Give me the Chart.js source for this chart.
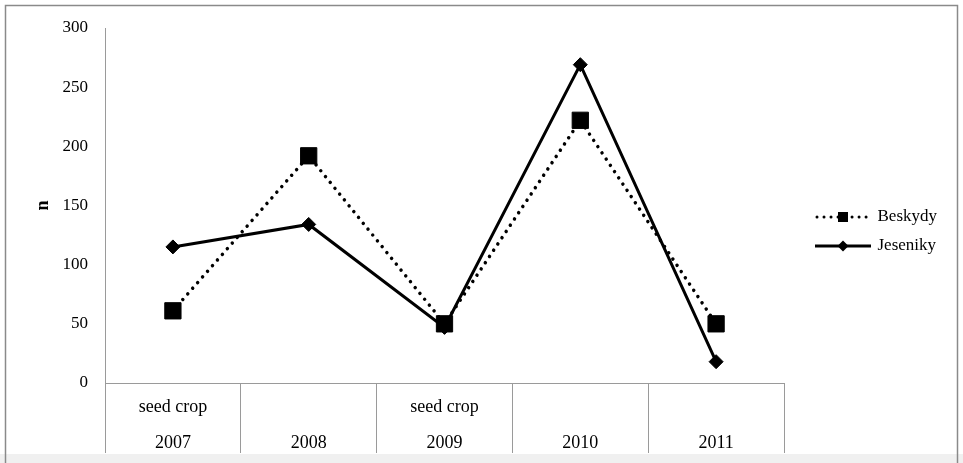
<!DOCTYPE html>
<html>
<head>
<meta charset="utf-8">
<script src="https://cdn.jsdelivr.net/npm/chart.js@4.4.1/dist/chart.umd.min.js"></script>
<style>
  html, body { margin: 0; padding: 0; background: #fff; }
  #wrap { width: 963px; height: 463px; }
</style>
</head>
<body>
<div id="wrap"><canvas id="c" width="963" height="463"></canvas></div>
<script>
// ---- data ----
const categories = ['2007', '2008', '2009', '2010', '2011'];
const notes = ['seed crop', '', 'seed crop', '', ''];
const beskydy = [61, 192, 50, 222, 50];
const jeseniky = [115, 134, 47, 269, 18];
const yTicks = [0, 50, 100, 150, 200, 250, 300];
const seriesNames = ['Beskydy', 'Jeseniky'];

const labels = categories.map((c, i) => [notes[i], c]);

Chart.defaults.font.family = "'Liberation Serif', 'Times New Roman', serif";
Chart.defaults.color = '#000';

function makeSample(kind) {
  const c = document.createElement('canvas');
  c.width = 56; c.height = 14;
  const g = c.getContext('2d');
  g.strokeStyle = '#000'; g.fillStyle = '#000';
  if (kind === 'dotted') {
    g.lineWidth = 3; g.lineCap = 'round';
    g.setLineDash([0.01, 7]);
    g.beginPath(); g.moveTo(2, 7); g.lineTo(54, 7); g.stroke();
    g.setLineDash([]);
    g.fillRect(23, 2, 10, 10);
  } else {
    g.lineWidth = 3;
    g.beginPath(); g.moveTo(0, 7); g.lineTo(56, 7); g.stroke();
    g.beginPath(); g.moveTo(28, 1.5); g.lineTo(33.5, 7); g.lineTo(28, 12.5); g.lineTo(22.5, 7); g.closePath(); g.fill();
  }
  return c;
}
const samples = [makeSample('dotted'), makeSample('solid')];

const frame = {
  id: 'frame',
  beforeDraw(chart) {
    const ctx = chart.ctx;
    ctx.save();
    ctx.fillStyle = '#f0f0f0';
    ctx.fillRect(0, 454, 963, 9);
    ctx.strokeStyle = '#8a8a8a';
    ctx.lineWidth = 1.5;
    ctx.beginPath();
    ctx.moveTo(5.5, 463); ctx.lineTo(5.5, 5.5); ctx.lineTo(957.5, 5.5); ctx.lineTo(957.5, 463);
    ctx.stroke();
    ctx.restore();
  }
};

new Chart(document.getElementById('c'), {
  type: 'line',
  data: {
    labels: labels,
    datasets: [
      {
        label: seriesNames[0],
        data: beskydy,
        borderColor: '#000',
        backgroundColor: '#000',
        borderWidth: 3.5,
        borderDash: [0.01, 7.5],
        borderCapStyle: 'round',
        pointStyle: 'rect',
        pointRadius: 11.5,
        pointBorderWidth: 1,
        pointBackgroundColor: '#000',
        pointBorderColor: '#000',
        tension: 0,
        fill: false
      },
      {
        label: seriesNames[1],
        data: jeseniky,
        borderColor: '#000',
        backgroundColor: '#000',
        borderWidth: 3,
        pointStyle: 'rectRot',
        pointRadius: 7,
        pointBorderWidth: 1,
        pointBackgroundColor: '#000',
        pointBorderColor: '#000',
        tension: 0,
        fill: false
      }
    ]
  },
  options: {
    responsive: false,
    animation: false,
    devicePixelRatio: 1,
    layout: { padding: { left: 0, top: 8, bottom: 8, right: 16 } },
    plugins: {
      tooltip: { enabled: false },
      title: {
        display: true,
        text: '',
        font: { size: 10, lineHeight: 1 },
        padding: { top: 10, bottom: 0 }
      },
      legend: {
        position: 'right',
        align: 'center',
        fullSize: true,
        labels: {
          usePointStyle: true,
          pointStyleWidth: 52,
          padding: 12,
          color: '#000',
          font: { size: 17 },
          generateLabels(chart) {
            const items = Chart.defaults.plugins.legend.labels.generateLabels(chart);
            items.forEach((it, i) => { it.pointStyle = samples[i]; it.fontColor = '#000'; });
            return items;
          }
        }
      }
    },
    scales: {
      x: {
        type: 'category',
        offset: true,
        border: { display: true, color: '#9a9a9a', width: 1 },
        grid: {
          display: true,
          offset: true,
          drawOnChartArea: false,
          drawTicks: true,
          tickLength: 70,
          color: '#9a9a9a',
          lineWidth: 1
        },
        ticks: {
          color: '#000',
          font: { size: 18, lineHeight: 2.0 },
          padding: -64,
          maxRotation: 0,
          autoSkip: false
        },
        afterFit(s) { s.height = 72; }
      },
      y: {
        type: 'linear',
        position: 'left',
        min: 0,
        max: 300,
        border: { display: true, color: '#9a9a9a', width: 1 },
        grid: { display: false, drawTicks: false },
        ticks: {
          color: '#000',
          font: { size: 17 },
          padding: 17,
          stepSize: 50
        },
        afterBuildTicks(s) { s.ticks = yTicks.map(v => ({ value: v })); },
        title: {
          display: true,
          text: 'n',
          color: '#000',
          font: { size: 18, weight: 'bold' },
          padding: { top: 33, bottom: 0 }
        },
        afterFit(s) { s.width = 105; }
      },
      yR: {
        type: 'linear',
        position: 'right',
        display: true,
        grid: { display: false, drawTicks: false },
        border: { display: false },
        ticks: { display: false },
        afterFit(s) { s.width = 21; }
      }
    }
  },
  plugins: [frame]
});
</script>
</body>
</html>
